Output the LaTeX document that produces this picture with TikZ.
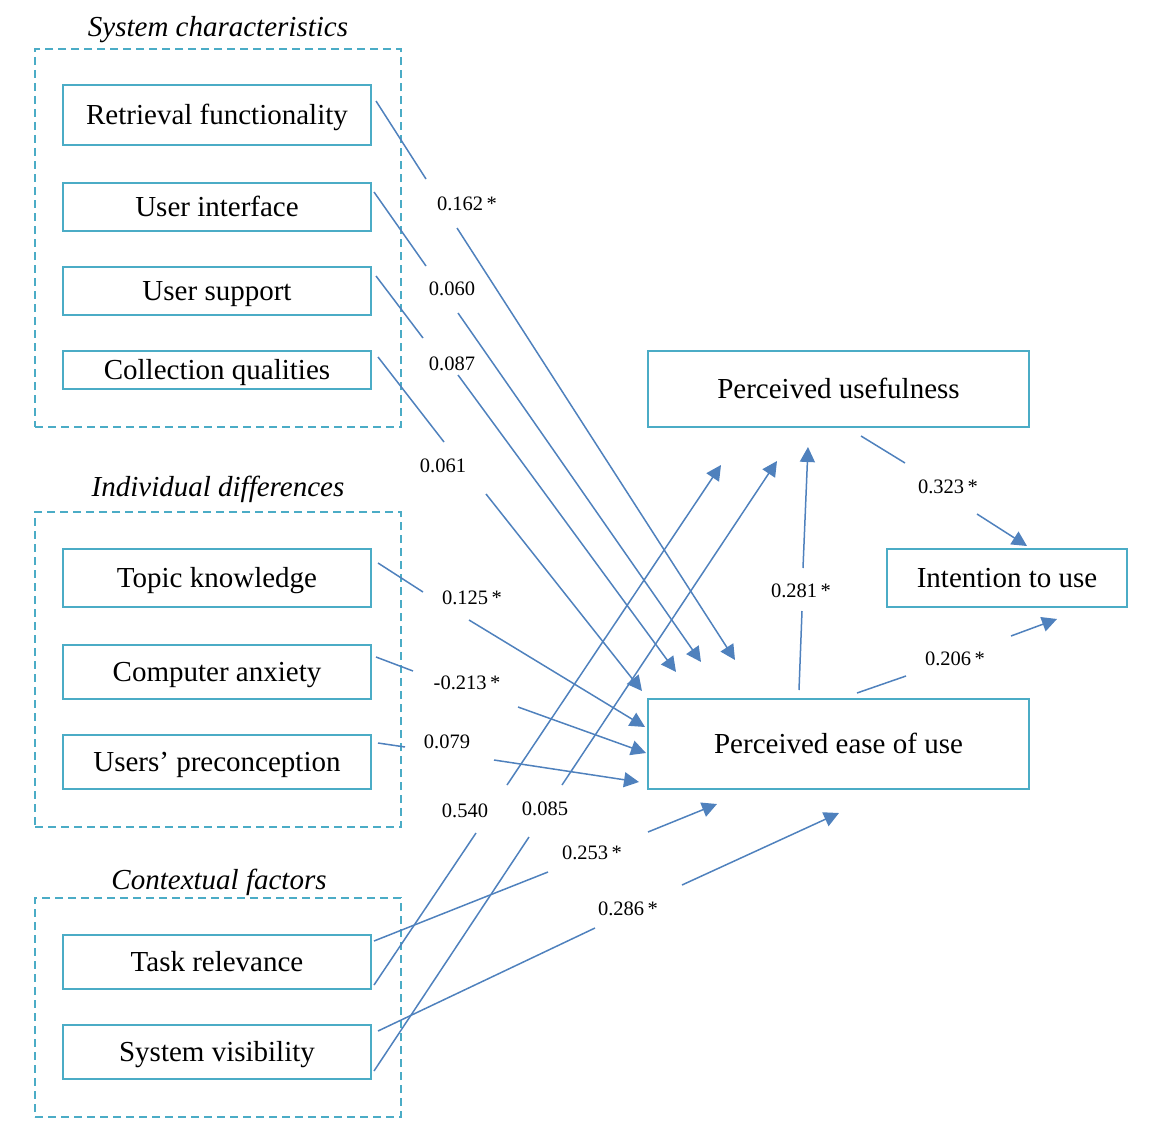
\documentclass[tikz,border=0pt]{standalone}
\usepackage{fontspec}
\setmainfont{Liberation Serif}
\usetikzlibrary{arrows.meta}
\definecolor{boxteal}{RGB}{75,172,198}
\definecolor{linkblue}{RGB}{79,129,189}
\tikzset{
  var/.style={draw=boxteal, line width=2pt, inner sep=0pt, minimum width=308pt,
    text height=19pt, text depth=0pt, font=\fontsize{29}{34}\selectfont},
  group/.style={draw=boxteal, line width=2pt, dash pattern=on 8pt off 5pt,
    minimum width=366pt, inner sep=0pt},
  grouptitle/.style={inner sep=0pt, text height=19pt, text depth=0pt,
    font=\fontsize{29}{34}\selectfont\itshape},
  coef/.style={inner sep=0pt, text height=14pt, text depth=0pt,
    font=\fontsize{20.5}{24}\selectfont},
  link/.style={draw=linkblue, line width=1.5pt, -{Triangle[length=15pt,width=15pt]}},
}
\begin{document}
\begin{tikzpicture}[x=1pt,y=-1pt]
\useasboundingbox (0,0) rectangle (1162,1140);

% groups
\node[group, minimum height=378pt] (g1) at (218,238) {};
\node[group, minimum height=315pt] (g2) at (218,669.5) {};
\node[group, minimum height=219pt] (g3) at (218,1007.5) {};
\node[grouptitle] (t1) at (218,27) {System characteristics};
\node[grouptitle] (t2) at (218,487) {Individual differences};
\node[grouptitle] (t3) at (219,880) {Contextual factors};

% variables
\node[var, minimum height=60pt] (rf) at (217,115) {Retrieval functionality};
\node[var, minimum height=48pt] (ui) at (217,207) {User interface};
\node[var, minimum height=48pt] (us) at (217,291) {User support};
\node[var, minimum height=38pt] (cq) at (217,370) {Collection qualities};
\node[var, minimum height=58pt] (tk) at (217,578) {Topic knowledge};
\node[var, minimum height=54pt] (ca) at (217,672) {Computer anxiety};
\node[var, minimum height=54pt] (up) at (217,762) {Users’ preconception};
\node[var, minimum height=54pt] (tr) at (217,962) {Task relevance};
\node[var, minimum height=54pt] (sv) at (217,1052) {System visibility};
\node[var, minimum width=381pt, minimum height=76pt] (pu) at (838.5,389) {Perceived usefulness};
\node[var, minimum width=240pt, minimum height=58pt] (itu) at (1007,578) {Intention to use};
\node[var, minimum width=381pt, minimum height=90pt] (peou) at (838.5,744) {Perceived ease of use};

% coefficients
\node[coef] (c-rf) at (467,203) {0.162\,*};
\node[coef] (c-ui) at (452,288) {0.060};
\node[coef] (c-us) at (452,363) {0.087};
\node[coef] (c-cq) at (443,465) {0.061};
\node[coef] (c-tk) at (472,597) {0.125\,*};
\node[coef] (c-ca) at (467,682) {-0.213\,*};
\node[coef] (c-up) at (447,741) {0.079};
\node[coef] (c-trpu) at (465,810) {0.540};
\node[coef] (c-svpu) at (545,808) {0.085};
\node[coef] (c-trpe) at (592,852) {0.253\,*};
\node[coef] (c-svpe) at (628,908) {0.286\,*};
\node[coef] (c-pepu) at (801,590) {0.281\,*};
\node[coef] (c-puit) at (948,486) {0.323\,*};
\node[coef] (c-peit) at (955,658) {0.206\,*};

% gap points around the coefficients
\coordinate (rf-a) at (426,179);   \coordinate (rf-b) at (457,228);
\coordinate (ui-a) at (426,266);   \coordinate (ui-b) at (458,313);
\coordinate (us-a) at (423,338);   \coordinate (us-b) at (458,375);
\coordinate (cq-a) at (444,442);   \coordinate (cq-b) at (486,494);
\coordinate (tk-a) at (423,592);   \coordinate (tk-b) at (469,620);
\coordinate (ca-a) at (413,671);   \coordinate (ca-b) at (518,707);
\coordinate (up-a) at (405,747);   \coordinate (up-b) at (494,760);
\coordinate (trpe-a) at (548,872); \coordinate (trpe-b) at (648,832);
\coordinate (trpu-a) at (476,833); \coordinate (trpu-b) at (507,785);
\coordinate (svpe-a) at (595,928); \coordinate (svpe-b) at (682,885);
\coordinate (svpu-a) at (529,837); \coordinate (svpu-b) at (562,785);
\coordinate (pepu-a) at (802,611); \coordinate (pepu-b) at (803,568);
\coordinate (puit-a) at (905,463); \coordinate (puit-b) at (977,514);
\coordinate (peit-a) at (906,676); \coordinate (peit-b) at (1011,636);

% connectors
\draw[link] ([shift={(4,-14)}]rf.east) -- (rf-a) (rf-b) -- ([shift={(88,-38)}]peou.north west);
\draw[link] ([shift={(2,-15)}]ui.east) -- (ui-a) (ui-b) -- ([shift={(54,-36)}]peou.north west);
\draw[link] ([shift={(4,-15)}]us.east) -- (us-a) (us-b) -- ([shift={(29,-26)}]peou.north west);
\draw[link] ([shift={(6,-13)}]cq.east) -- (cq-a) (cq-b) -- ([shift={(-5,-7)}]peou.north west);
\draw[link] ([shift={(6,-15)}]tk.east) -- (tk-a) (tk-b) -- ([shift={(-2,-17)}]peou.west);
\draw[link] ([shift={(4,-15)}]ca.east) -- (ca-a) (ca-b) -- ([shift={(-1,9)}]peou.west);
\draw[link] ([shift={(6,-19)}]up.east) -- (up-a) (up-b) -- ([shift={(-8,38)}]peou.west);
\draw[link] ([shift={(2,-21)}]tr.east) -- (trpe-a) (trpe-b) -- ([shift={(70,14)}]peou.south west);
\draw[link] ([shift={(2,23)}]tr.east) -- (trpu-a) (trpu-b) -- ([shift={(74,37)}]pu.south west);
\draw[link] ([shift={(6,-21)}]sv.east) -- (svpe-a) (svpe-b) -- ([shift={(0.5,23)}]peou.south);
\draw[link] ([shift={(2,19)}]sv.east) -- (svpu-a) (svpu-b) -- ([shift={(130,33)}]pu.south west);
\draw[link] ([shift={(-39.5,-8)}]peou.north) -- (pepu-a) (pepu-b) -- ([shift={(-30.5,19)}]pu.south);
\draw[link] ([shift={(22.5,8)}]pu.south) -- (puit-a) (puit-b) -- ([shift={(20,-2)}]itu.north);
\draw[link] ([shift={(18.5,-5)}]peou.north) -- (peit-a) (peit-b) -- ([shift={(50,11)}]itu.south);
\end{tikzpicture}
\end{document}
